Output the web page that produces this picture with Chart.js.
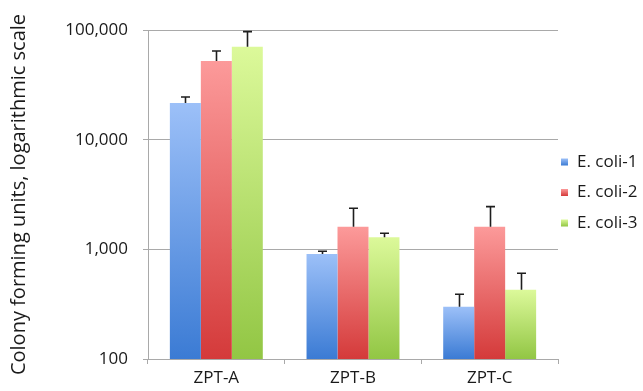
<!DOCTYPE html>
<html>
<head>
<meta charset="utf-8">
<script src="https://cdn.jsdelivr.net/npm/chart.js@4.4.1/dist/chart.umd.min.js"></script>
<style>
  html, body { margin: 0; padding: 0; background: #ffffff; }
  #wrap { width: 643px; height: 391px; position: relative; }
</style>
</head>
<body>
<div id="wrap"><canvas id="c" width="643" height="391"></canvas></div>
<script>
// ---- data ----
const categories = ['ZPT-A', 'ZPT-B', 'ZPT-C'];
const seriesLabels = ['E. coli-1', 'E. coli-2', 'E. coli-3'];
const coli1 = [21600, 908, 300];
const coli2 = [52100, 1610, 1610];
const coli3 = [70400, 1288, 427];
// upper end of each error bar
const coli1Upper = [24500, 960, 390];
const coli2Upper = [64400, 2370, 2450];
const coli3Upper = [96600, 1400, 605];
const yTicks = [100, 1000, 10000, 100000];
const yTitle = 'Colony forming units, logarithmic scale';

const FONT = '"Open Sans", "DejaVu Sans", sans-serif';
const gradStops = [
  ['#9cc0f8', '#3b7bd4'],
  ['#fc9a9a', '#d43a3a'],
  ['#dcf99a', '#92c644']
];
const legendColors = ['#5b93e3', '#e85a5a', '#b4e070'];

function barGradient(idx) {
  return function (ctx) {
    const chart = ctx.chart;
    const area = chart.chartArea;
    const ys = chart.scales && chart.scales.y;
    if (!area || !ys || ctx.type !== 'data') return gradStops[idx][1];
    const v = ctx.raw;
    const top = ys.getPixelForValue(v);
    const bottom = area.bottom;
    if (!isFinite(top) || bottom - top < 1) return gradStops[idx][1];
    const g = chart.ctx.createLinearGradient(0, top, 0, bottom);
    g.addColorStop(0, gradStops[idx][0]);
    g.addColorStop(1, gradStops[idx][1]);
    return g;
  };
}

const uppers = [coli1Upper, coli2Upper, coli3Upper];

const errorBarPlugin = {
  id: 'errorBars',
  afterDatasetsDraw(chart) {
    const ctx = chart.ctx;
    const ys = chart.scales.y;
    ctx.save();
    ctx.strokeStyle = '#1e1e1e';
    ctx.lineWidth = 1.6;
    chart.data.datasets.forEach((ds, di) => {
      const meta = chart.getDatasetMeta(di);
      meta.data.forEach((bar, i) => {
        const yTop = ys.getPixelForValue(uppers[di][i]);
        const x = Math.round(bar.x) + 0.5;
        ctx.beginPath();
        ctx.moveTo(x, bar.y);
        ctx.lineTo(x, yTop);
        ctx.moveTo(x - 4.5, yTop);
        ctx.lineTo(x + 4.5, yTop);
        ctx.stroke();
      });
    });
    ctx.restore();
  }
};

const legendPlugin = {
  id: 'sideLegend',
  afterDraw(chart) {
    const ctx = chart.ctx;
    ctx.save();
    ctx.font = '17px ' + FONT;
    ctx.textBaseline = 'middle';
    ctx.textAlign = 'left';
    const x0 = 561;
    const y0 = 162;
    const step = 30.5;
    chart.data.datasets.forEach((ds, i) => {
      const y = y0 + i * step;
      const g = ctx.createLinearGradient(0, y - 3.5, 0, y + 3.5);
      g.addColorStop(0, gradStops[i][0]);
      g.addColorStop(1, gradStops[i][1]);
      ctx.fillStyle = g;
      ctx.fillRect(x0, y - 3.5, 7, 7);
      ctx.fillStyle = '#1a1a1a';
      ctx.fillText(ds.label, x0 + 16, y);
    });
    ctx.restore();
  }
};

new Chart(document.getElementById('c'), {
  type: 'bar',
  data: {
    labels: categories,
    datasets: [
      { label: seriesLabels[0], data: coli1, backgroundColor: barGradient(0) },
      { label: seriesLabels[1], data: coli2, backgroundColor: barGradient(1) },
      { label: seriesLabels[2], data: coli3, backgroundColor: barGradient(2) }
    ]
  },
  options: {
    responsive: false,
    animation: false,
    layout: { padding: { top: 30, right: 85, left: 0, bottom: 0 } },
    datasets: { bar: { categoryPercentage: 0.68, barPercentage: 1.0, borderWidth: 0 } },
    plugins: {
      legend: { display: false },
      tooltip: { enabled: false }
    },
    scales: {
      x: {
        offset: true,
        grid: {
          offset: true,
          drawOnChartArea: false,
          drawTicks: true,
          tickLength: 5,
          color: '#a9a9a9',
          lineWidth: 1
        },
        border: { color: '#a9a9a9', width: 1 },
        ticks: { color: '#1a1a1a', font: { family: FONT, size: 17 }, padding: 4, maxRotation: 0 },
        afterFit(scale) { scale.height = 32; }
      },
      y: {
        type: 'logarithmic',
        min: 100,
        max: 100000,
        afterBuildTicks(scale) { scale.ticks = yTicks.map(v => ({ value: v })); },
        grid: { color: '#a9a9a9', lineWidth: 1, tickLength: 5 },
        border: { color: '#a9a9a9', width: 1 },
        ticks: {
          color: '#1a1a1a',
          font: { family: FONT, size: 17 },
          padding: 15,
          callback: (v) => Number(v).toLocaleString('en-US')
        },
        title: {
          display: true,
          text: yTitle,
          color: '#1a1a1a',
          font: { family: FONT, size: 20, weight: 'normal' },
          padding: { top: 7, bottom: 0 }
        },
        afterFit(scale) { scale.width = 148; }
      }
    }
  },
  plugins: [errorBarPlugin, legendPlugin]
});
</script>
</body>
</html>
